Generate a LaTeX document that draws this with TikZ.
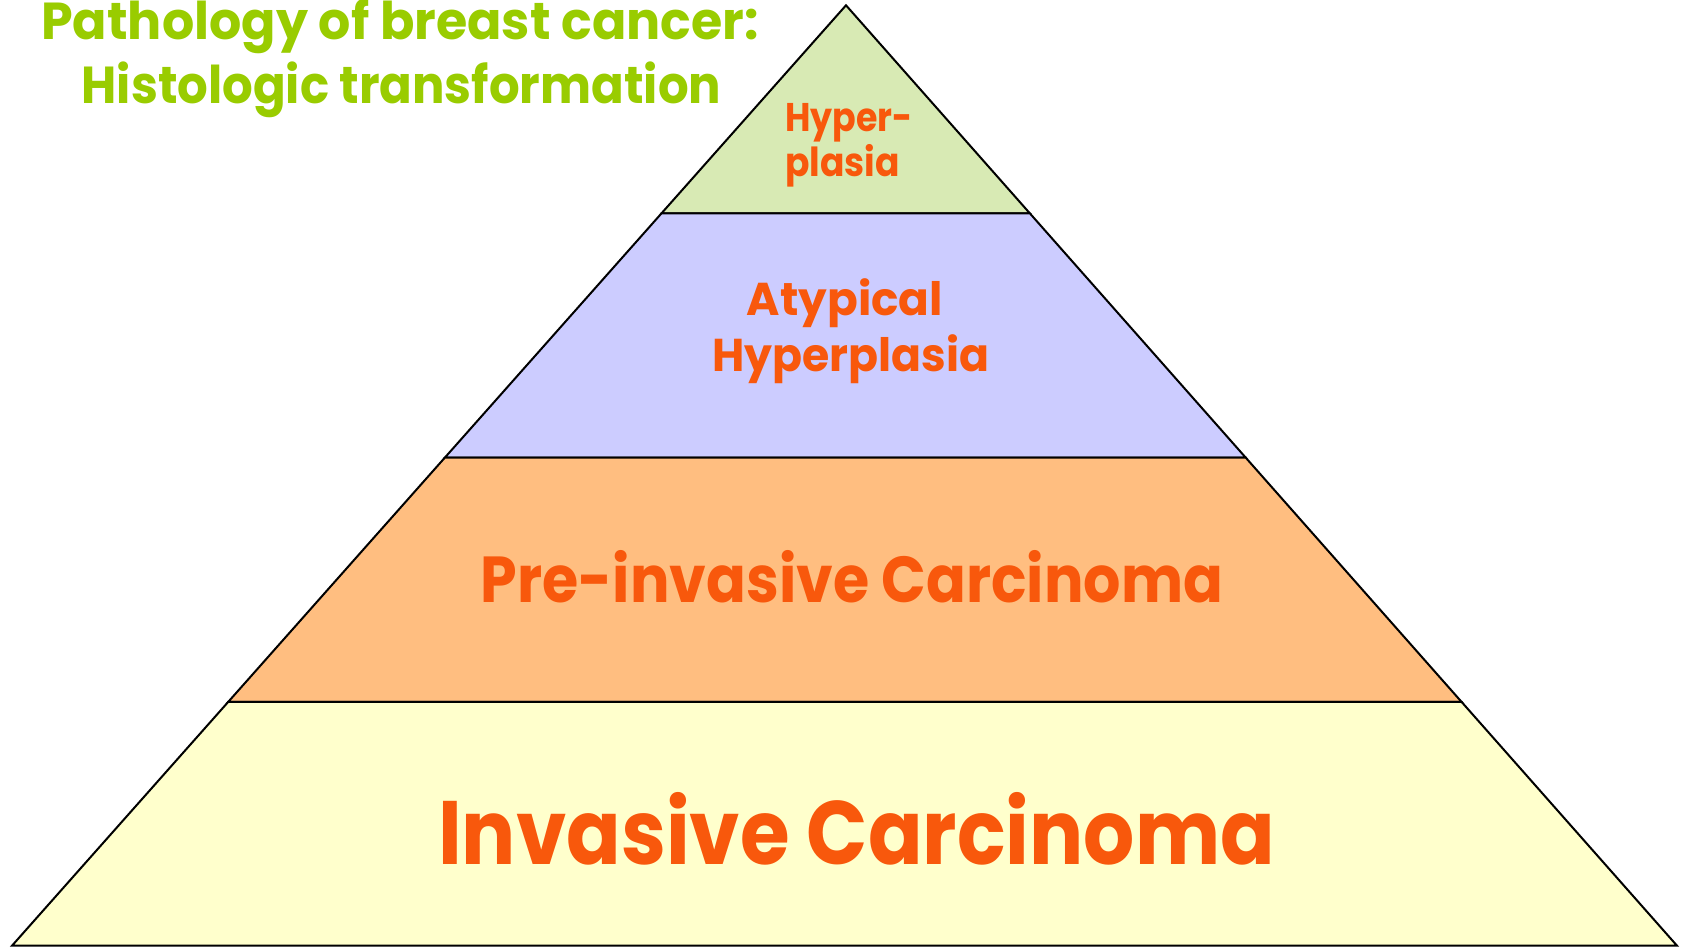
\documentclass[tikz,border=0pt]{standalone}
\usepackage{fontspec}
\setmainfont{Poppins}
\usetikzlibrary{calc}
\definecolor{titleGreen}{RGB}{153,204,0}
\definecolor{lvlOrange}{RGB}{248,88,12}
\definecolor{fillHyp}{RGB}{216,234,180}
\definecolor{fillAty}{RGB}{204,204,255}
\definecolor{fillPre}{RGB}{255,190,128}
\definecolor{fillInv}{RGB}{255,255,204}

\begin{document}
\begin{tikzpicture}[x=1pt, y=-1pt,
	level/.style={draw=black, line width=2pt, line join=miter},
	lvltext/.style={text=lvlOrange, inner sep=0pt, anchor=base, font=\bfseries},
	titletext/.style={text=titleGreen, inner sep=0pt, anchor=base, font=\bfseries}]
				\useasboundingbox (0,0) rectangle (1683,947);
				% corners of the pyramid
				\coordinate (apex) at (846,5.3);
				\coordinate (bl) at (12,945.7);
				\coordinate (br) at (1677,945.7);
				% four levels, top to bottom
				\foreach \ta/\tb/\col in {0/0.2212/fillHyp, 0.2212/0.4811/fillAty, 0.4811/0.7408/fillPre, 0.7408/1/fillInv} {
					\draw[level, fill=\col] ($(apex)!\ta!(bl)$) -- ($(apex)!\tb!(bl)$) -- ($(apex)!\tb!(br)$) -- ($(apex)!\ta!(br)$) -- cycle;
				}
				\node[titletext] (title1) at (400,40) {\fontsize{52}{52}\selectfont\scalebox{0.975}[1]{Pathology of breast cancer:}};
				\node[titletext] (title2) at (401.5,103.3) {\fontsize{52}{52}\selectfont\scalebox{0.927}[1]{Histologic transformation}};
				\node[lvltext, anchor=base west] (hyp1) at (785,131.7) {\fontsize{40}{40}\selectfont\scalebox{0.87}[1]{Hyper-}};
				\node[lvltext, anchor=base west] (hyp2) at (785,176) {\fontsize{40}{40}\selectfont\scalebox{0.9}[1]{plasia}};
				\node[lvltext] (aty1) at (845,315) {\fontsize{46}{46}\selectfont\scalebox{0.985}[1]{Atypical}};
				\node[lvltext] (aty2) at (851,371.7) {\fontsize{46}{46}\selectfont\scalebox{0.96}[1]{Hyperplasia}};
				\node[lvltext] (pre) at (852,602.3) {\fontsize{65}{65}\selectfont\scalebox{0.903}[1]{Pre-invasive Carcinoma}};
				\node[lvltext] (inv) at (856.5,864.3) {\fontsize{90}{90}\selectfont\scalebox{0.894}[1]{Invasive Carcinoma}};
\end{tikzpicture}
\end{document}
